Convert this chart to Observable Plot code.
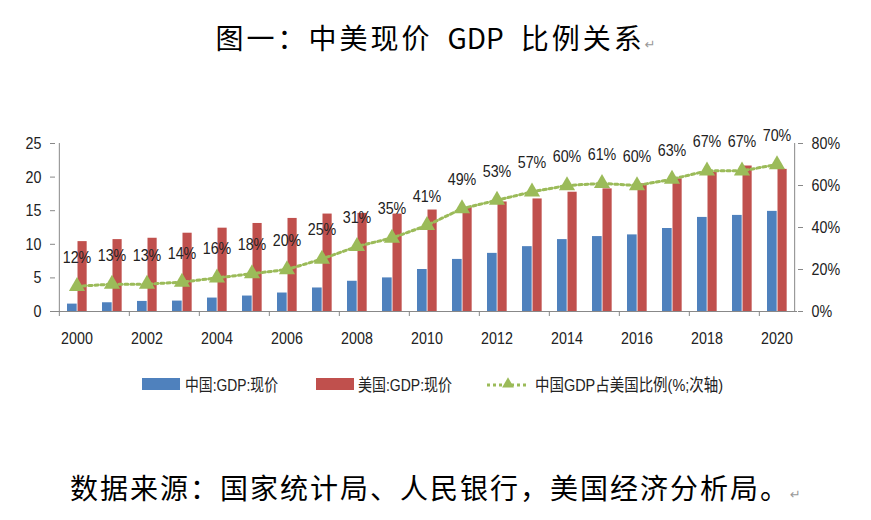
<!DOCTYPE html>
<html><head><meta charset="utf-8">
<script src="https://cdn.jsdelivr.net/npm/d3@7"></script>
<script src="https://cdn.jsdelivr.net/npm/@observablehq/plot@0.6"></script>
<style>
body{margin:0;background:#fff;width:871px;height:520px;position:relative;overflow:hidden;font-family:"Noto Sans CJK SC",sans-serif;}
#title{position:absolute;left:0;width:871px;top:17px;text-align:center;font-size:28px;letter-spacing:3px;line-height:40px;color:#000;white-space:nowrap;}
#title .lat{letter-spacing:0;margin:0 17px 0 15px;}
#chart{position:absolute;left:0;top:100px;}
#legend{position:absolute;left:0;top:368px;}
#caption{position:absolute;left:0;width:871px;top:467px;text-align:center;font-size:28px;letter-spacing:2px;line-height:40px;color:#000;white-space:nowrap;}
.pm{font-size:13px;color:#999;letter-spacing:0;font-family:"DejaVu Sans",sans-serif;}
</style></head><body>
<div id="title">图一：中美现价<span class="lat">GDP</span>比例关系<span class="pm">↵</span></div>
<div id="chart"></div>
<svg id="legend" width="871" height="30"></svg>
<div id="caption">数据来源：国家统计局、人民银行，美国经济分析局。<span class="pm">↵</span></div>
<script>
const years = [2000,2001,2002,2003,2004,2005,2006,2007,2008,2009,2010,2011,2012,2013,2014,2015,2016,2017,2018,2019,2020];
const chinaGDP = [1.1,1.3,1.5,1.55,2.0,2.3,2.75,3.5,4.5,5.0,6.25,7.75,8.65,9.65,10.7,11.15,11.4,12.35,14.0,14.3,14.9];
const usGDP = [10.4,10.7,10.9,11.65,12.4,13.1,13.85,14.5,14.6,14.5,15.1,15.5,16.3,16.75,17.75,18.25,19.0,19.75,20.75,21.65,21.15];
const ratioPct = [12,13,13,14,16,18,20,25,31,35,41,49,53,57,60,61,60,63,67,67,70];
const leftTicks = [0,5,10,15,20,25];
const rightTicks = [0,20,40,60,80];
const xTickLabels = ["2000","2002","2004","2006","2008","2010","2012","2014","2016","2018","2020"];
const seriesNames = ["中国:GDP:现价","美国:GDP:现价","中国GDP占美国比例(%;次轴)"];
const colors = ["#4F81BD","#C0504D","#9BBB59"];

const W=871, H=260, mL=55, mR=74, mT=43, mB=49;
const bw = (W-mL-mR)/years.length;
const k = 25/80;
const data = years.map((y,i)=>({year:String(y), cn:chinaGDP[i], us:usGDP[i], r:ratioPct[i]}));
const tickYears = data.filter((d,i)=>i%2===0);

const chart = Plot.plot({
  width:W, height:H, marginLeft:mL, marginRight:mR, marginTop:mT, marginBottom:mB,
  style:{fontFamily:"'Liberation Sans',Arial,sans-serif", fontSize:"17px", color:"#222", background:"#fff"},
  x:{type:"band", domain:data.map(d=>d.year), padding:0},
  y:{domain:[0,25]},
  marks:[
    Plot.barY(data,{x:"year", y:"cn", fill:colors[0], insetLeft:8, insetRight:bw-18}),
    Plot.barY(data,{x:"year", y:"us", fill:colors[1], insetLeft:18.5, insetRight:bw-28}),
    Plot.ruleY([0],{stroke:"#888"}),
    Plot.ruleX([data[0].year],{x:d=>d, y1:0, y2:25, dx:-bw/2, stroke:"#888"}),
    Plot.ruleX([data[data.length-1].year],{x:d=>d, y1:0, y2:25, dx:bw/2, stroke:"#888"}),
    Plot.ruleX(tickYears,{x:"year", y1:0, y2:0, dx:-bw/2, insetBottom:-5, stroke:"#888"}),
    Plot.axisY({anchor:"left", ticks:leftTicks, tickSize:5, tickPadding:9, stroke:"#888", fill:"#222", label:null}),
    Plot.axisY({anchor:"right", ticks:rightTicks.map(p=>p*k), tickFormat:d=>Math.round(d/k)+"%", tickSize:5, tickPadding:9, stroke:"#888", fill:"#222", label:null}),
    Plot.axisX({ticks:xTickLabels, tickSize:0, tickPadding:20, fill:"#222", label:null}),
    Plot.line(data,{x:"year", y:d=>d.r*k, stroke:colors[2], strokeWidth:3, strokeDasharray:"3 3"}),
    Plot.dot(data,{x:"year", y:d=>d.r*k, symbol:"triangle", r:6, fill:colors[2]}),
    Plot.text(data,{x:"year", y:d=>d.r*k, text:d=>d.r+"%", dy:-29, fill:"#222"})
  ]
});
document.getElementById("chart").appendChild(chart);
// condense text horizontally to mimic the narrow chart font
d3.select(chart).selectAll("text").each(function(){
  const len = this.getComputedTextLength();
  if (len > 0) { this.setAttribute("textLength", (len*0.84).toFixed(2)); this.setAttribute("lengthAdjust","spacingAndGlyphs"); }
});

// legend
const lg = d3.select("#legend");
const fam = "'Liberation Sans',Arial,'Noto Sans CJK SC',sans-serif";
lg.append("rect").attr("x",142).attr("y",10).attr("width",38).attr("height",12).attr("fill",colors[0]);
lg.append("text").attr("x",185).attr("y",23).attr("textLength",93).attr("lengthAdjust","spacingAndGlyphs")
  .attr("font-family",fam).attr("font-size",17).attr("fill","#222").text(seriesNames[0]);
lg.append("rect").attr("x",316).attr("y",10).attr("width",38).attr("height",12).attr("fill",colors[1]);
lg.append("text").attr("x",358).attr("y",23).attr("textLength",94).attr("lengthAdjust","spacingAndGlyphs")
  .attr("font-family",fam).attr("font-size",17).attr("fill","#222").text(seriesNames[1]);
lg.append("line").attr("x1",487).attr("x2",529).attr("y1",17).attr("y2",17).attr("stroke",colors[2]).attr("stroke-width",3).attr("stroke-dasharray","3 3");
lg.append("path").attr("d",d3.symbol(d3.symbolTriangle, 60)()).attr("transform","translate(508,16)").attr("fill",colors[2]);
lg.append("text").attr("x",535).attr("y",23).attr("textLength",188).attr("lengthAdjust","spacingAndGlyphs")
  .attr("font-family",fam).attr("font-size",17).attr("fill","#222").text(seriesNames[2]);
</script>
</body></html>
